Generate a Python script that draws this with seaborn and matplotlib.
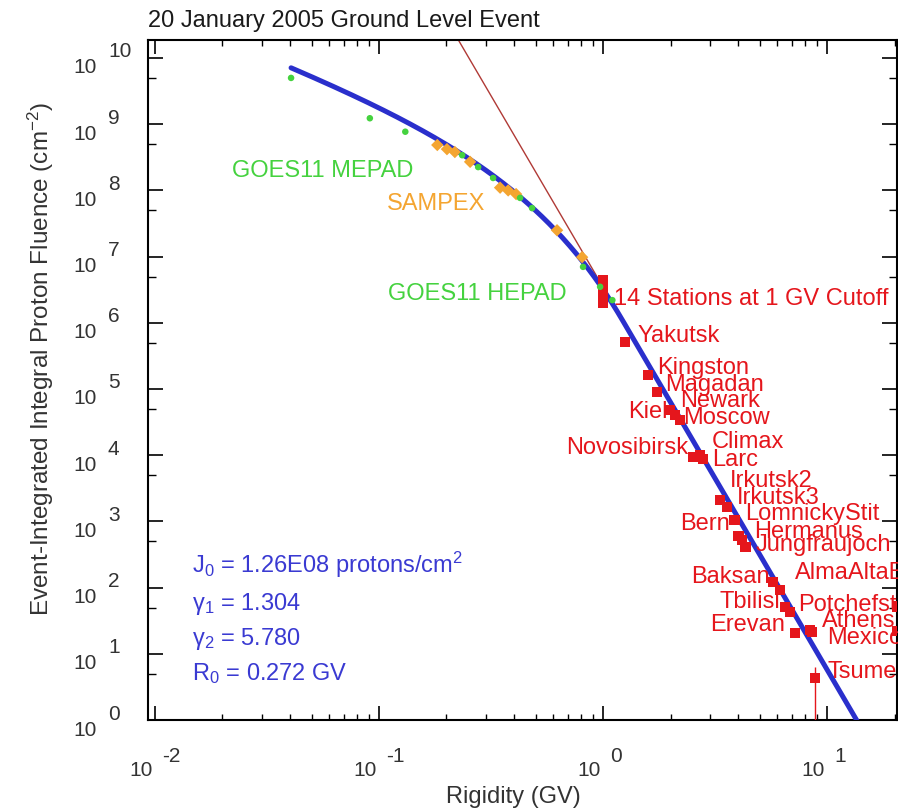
import numpy as np
import pandas as pd
import matplotlib
matplotlib.use("Agg")
import matplotlib.pyplot as plt
import matplotlib.ticker as mticker
import seaborn as sns

# Band-function fit to the event-integrated spectrum
J0 = 1.26e8        # protons/cm^2
GAMMA1 = 1.304
GAMMA2 = 5.780
R0 = 0.272         # GV

# GOES-11 MEPAD integral fluences
mepad_R = [0.0405, 0.091, 0.131, 0.235, 0.277, 0.323, 0.426, 0.482]
mepad_J = [5.0e9, 1.23e9, 7.7e8, 3.4e8, 2.25e8, 1.54e8, 7.7e7, 5.4e7]

# GOES-11 HEPAD integral fluences
hepad_R = [0.814, 0.97, 1.10]
hepad_J = [7.0e6, 3.5e6, 2.2e6]

# SAMPEX integral fluences
sampex_R = [0.182, 0.201, 0.218, 0.255, 0.347, 0.377, 0.409, 0.623, 0.806]
sampex_J = [4.85e8, 4.2e8, 3.8e8, 2.7e8, 1.1e8, 1.0e8, 8.8e7, 2.5e7, 9.8e6]

# Neutron monitors with ~1 GV cutoff
cutoff_R = [1.0] * 14
cutoff_J = [4.4e6, 4.1e6, 3.8e6, 3.6e6, 3.4e6, 3.2e6, 3.0e6,
            2.85e6, 2.7e6, 2.55e6, 2.4e6, 2.3e6, 2.15e6, 2.0e6]

# Neutron monitors at higher cutoff rigidity
station_names = ["Yakutsk", "Kingston", "Magadan", "Newark", "Kiel", "Moscow",
                 "Novosibirsk", "Climax", "Larc", "Irkutsk2", "Irkutsk3",
                 "LomnickyStit", "Bern", "Hermanus", "Jungfraujoch", "Baksan",
                 "AlmaAltaB", "Tbilisi", "Potchefstroom", "Erevan", "Athens",
                 "Mexico", "Tsumeb"]
station_R = [1.254, 1.588, 1.742, 1.991, 2.096, 2.207, 2.522, 2.71, 2.795,
             3.33, 3.58, 3.85, 4.01, 4.17, 4.31, 5.74, 6.17, 6.49, 6.84,
             7.2, 8.4, 8.57, 8.84]
station_J = [5.13e5, 1.63e5, 9.0e4, 4.82e4, 4.05e4, 3.40e4, 9.4e3, 1.01e4,
             8.77e3, 2.10e3, 1.65e3, 1.05e3, 601, 523, 410, 122, 92, 51,
             42.8, 20.6, 22.9, 21.3, 4.3]
tsumeb_err = [0.5, 6.3]

# stations at the right border of the rigidity range
edge_R = [20.5, 20.5]
edge_J = [52, 22]

x_exps = [-2, -1, 0, 1]
y_exps = list(range(0, 11))

# label layout: (dx, dy) in pixels from the marker, horizontal alignment
label_layout = {
    "Yakutsk": (12, 6, "left"), "Kingston": (9, 7, "left"),
    "Magadan": (8, 7, "left"), "Newark": (10, 9, "left"),
    "Kiel": (-7, 3, "right"), "Moscow": (3, 2, "left"),
    "Novosibirsk": (-5, 9, "right"), "Climax": (12, 13, "left"),
    "Larc": (9, -1, "left"), "Irkutsk2": (10, 19, "left"),
    "Irkutsk3": (10, 9, "left"), "LomnickyStit": (11, 6, "left"),
    "Bern": (-8, 12, "right"), "Hermanus": (12, 8, "left"),
    "Jungfraujoch": (10, 2, "left"), "Baksan": (-3, 5, "right"),
    "AlmaAltaB": (15, 17, "left"), "Tbilisi": (-5, 5, "right"),
    "Potchefstroom": (8, 7, "left"), "Erevan": (-10, 8, "right"),
    "Athens": (12, 9, "left"), "Mexico": (15, -6, "left"),
    "Tsumeb": (12, 6, "left"),
}

BLUE = "#2a2fcc"
RED = "#e5161c"
GREEN = "#45d23f"
ORANGE = "#f4a531"
TXT = "#333333"


def band_integral(R):
    Rb = (GAMMA2 - GAMMA1) * R0
    low = J0 * R ** (-GAMMA1) * np.exp(-R / R0)
    high = J0 * R ** (-GAMMA2) * Rb ** (GAMMA2 - GAMMA1) * np.exp(GAMMA1 - GAMMA2)
    return np.where(R <= Rb, low, high)


def high_power_law(R):
    Rb = (GAMMA2 - GAMMA1) * R0
    return J0 * R ** (-GAMMA2) * Rb ** (GAMMA2 - GAMMA1) * np.exp(GAMMA1 - GAMMA2)


sns.set_style("ticks")
plt.rcParams["font.family"] = ["Liberation Sans", "DejaVu Sans"]
plt.rcParams["mathtext.default"] = "regular"

fig = plt.figure(figsize=(8.98, 8.11), dpi=100)
ax = fig.add_axes([148 / 898, 1 - 720 / 811, 749 / 898, 680 / 811])
ax.set_xscale("log")
ax.set_yscale("log")

# model curves
R_break = (GAMMA2 - GAMMA1) * R0
fit_R = np.logspace(np.log10(mepad_R[0]), np.log10(16), 500)
fit_df = pd.DataFrame({"R": fit_R, "J": band_integral(fit_R)})
pl_R = np.logspace(np.log10(0.2), np.log10(R_break), 100)
pl_df = pd.DataFrame({"R": pl_R, "J": high_power_law(pl_R)})

sns.lineplot(data=pl_df, x="R", y="J", sort=False, estimator=None,
             color="#b03a36", lw=1.0, ax=ax, zorder=2)
sns.lineplot(data=fit_df, x="R", y="J", sort=False, estimator=None,
             color=BLUE, lw=3.6, ax=ax, zorder=3)

# neutron monitor points
ax.vlines(station_R[-1], tsumeb_err[0], tsumeb_err[1], color=RED, lw=1.0, zorder=3)
nm_df = pd.DataFrame({"R": cutoff_R + station_R + edge_R,
                      "J": cutoff_J + station_J + edge_J})
sns.scatterplot(data=nm_df, x="R", y="J", marker="s", s=58, color=RED,
                edgecolor="none", ax=ax, zorder=4, clip_on=True)

# spacecraft points
sns.scatterplot(x=sampex_R, y=sampex_J, marker="D", s=40, color=ORANGE,
                edgecolor="none", ax=ax, zorder=5)
sns.scatterplot(x=mepad_R + hepad_R, y=mepad_J + hepad_J, marker="o", s=22,
                color=GREEN, edgecolor="none", ax=ax, zorder=6)

ax.set_xlim(0.00931, 20.5)
ax.set_ylim(1.0, 1.87e10)
ax.set_xlabel("")
ax.set_ylabel("")

# ticks
ax.set_xticks([10.0 ** e for e in x_exps])
ax.xaxis.set_minor_locator(mticker.LogLocator(base=10, subs=np.arange(2, 10), numticks=20))
ax.set_yticks([10.0 ** e for e in y_exps])
ax.yaxis.set_minor_locator(mticker.LogLocator(base=10, subs=[5.0], numticks=20))
for axis in (ax.xaxis, ax.yaxis):
    axis.set_major_formatter(mticker.NullFormatter())
    axis.set_minor_formatter(mticker.NullFormatter())
ax.tick_params(which="both", direction="in", top=True, right=True, colors="black")
ax.tick_params(axis="y", which="major", length=11, width=1.2)
ax.tick_params(axis="y", which="minor", length=6, width=1.0)
ax.tick_params(axis="x", which="major", length=10, width=1.2)
ax.tick_params(axis="x", which="minor", length=4.5, width=1.0)
for sp in ax.spines.values():
    sp.set_linewidth(1.5)
    sp.set_color("black")

# tick labels drawn as "10" with a full-size exponent
tick_fs = 15
for e in x_exps:
    ax.annotate("10", xy=(10.0 ** e, 0), xycoords=("data", "axes fraction"),
                xytext=(-2, -51), textcoords="offset pixels",
                ha="right", va="center", fontsize=tick_fs, color=TXT,
                annotation_clip=False)
    ax.annotate(str(e), xy=(10.0 ** e, 0), xycoords=("data", "axes fraction"),
                xytext=(7, -37), textcoords="offset pixels",
                ha="left", va="center", fontsize=tick_fs, color=TXT,
                annotation_clip=False)
for e in y_exps:
    ax.annotate("10", xy=(0, 10.0 ** e), xycoords=("axes fraction", "data"),
                xytext=(-51, -10), textcoords="offset pixels",
                ha="right", va="center", fontsize=tick_fs, color=TXT,
                annotation_clip=False)
    ax.annotate(str(e), xy=(0, 10.0 ** e), xycoords=("axes fraction", "data"),
                xytext=(-40, 6), textcoords="offset pixels",
                ha="left", va="center", fontsize=tick_fs, color=TXT,
                annotation_clip=False)

# titles
fig.text(148 / 898, 1 - 21 / 811, "20 January 2005 Ground Level Event",
         ha="left", va="center", fontsize=17, color="#1a1a1a")
fig.text(513 / 898, 1 - 797 / 811, "Rigidity (GV)", ha="center", va="center",
         fontsize=17, color=TXT)
fig.text(41 / 898, 1 - 359 / 811,
         r"Event-Integrated Integral Proton Fluence (cm$^{-2}$)",
         rotation=90, ha="center", va="center", fontsize=17.5, color=TXT)

# instrument labels
lab_fs = 17
ax.text(0.112, 0.7985, "GOES11 MEPAD", transform=ax.transAxes, color=GREEN,
        fontsize=lab_fs, ha="left", va="baseline")
ax.text(0.319, 0.75, "SAMPEX", transform=ax.transAxes, color=ORANGE,
        fontsize=lab_fs, ha="left", va="baseline")
ax.text(0.3204, 0.6176, "GOES11 HEPAD", transform=ax.transAxes, color=GREEN,
        fontsize=lab_fs, ha="left", va="baseline")
ax.annotate("14 Stations at 1 GV Cutoff", xy=(cutoff_R[0], cutoff_J[6]),
            xytext=(11, -8), textcoords="offset pixels", color=RED,
            fontsize=lab_fs, ha="left", va="center", annotation_clip=False)

for name, r, j in zip(station_names, station_R, station_J):
    dx, dy, ha = label_layout[name]
    ax.annotate(name, xy=(r, j), xytext=(dx, dy), textcoords="offset pixels",
                color=RED, fontsize=lab_fs, ha=ha, va="center",
                annotation_clip=False, zorder=7)

# fit parameters
param_lines = [
    (0.216, r"J$_0$ = %.2fE%02d protons/cm$^2$" % (J0 / 10 ** np.floor(np.log10(J0)),
                                                   int(np.floor(np.log10(J0))))),
    (0.162, r"γ$_1$ = %.3f" % GAMMA1),
    (0.110, r"γ$_2$ = %.3f" % GAMMA2),
    (0.0588, r"R$_0$ = %.3f GV" % R0),
]
for yfrac, txt in param_lines:
    ax.text(0.0587, yfrac, txt, transform=ax.transAxes, color="#3a3ad2",
            fontsize=17, ha="left", va="baseline")

fig.savefig("out.png", dpi=100)
